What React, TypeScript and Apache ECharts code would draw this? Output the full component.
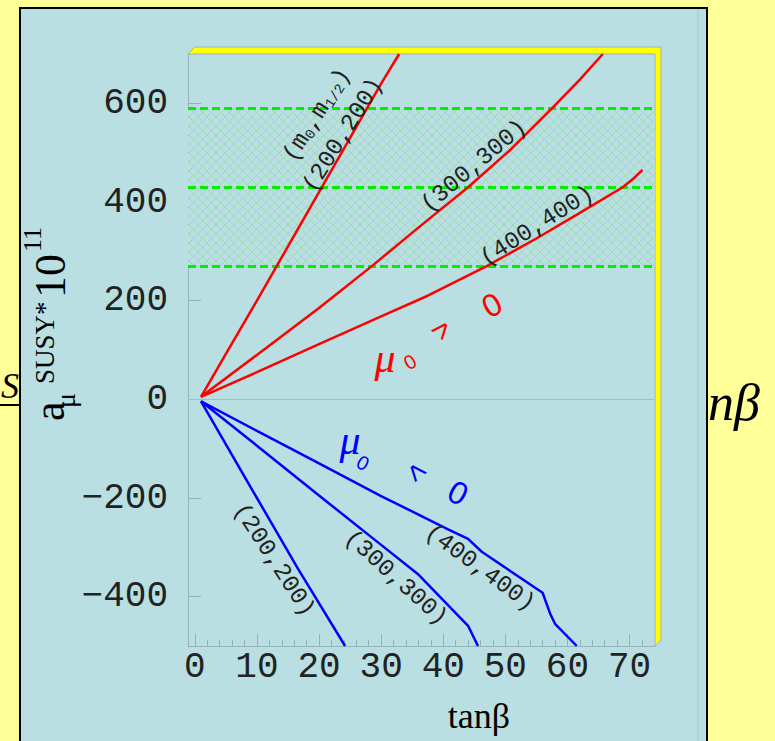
import React, { useEffect, useRef } from "react";
import * as echarts from "echarts";

// tanβ (x) and a_μ^SUSY × 10^11 (y)
const posTan200 = [1, 5, 10, 15, 20, 25, 30, 32.9];
const posAmu200 = [5, 92, 200, 310, 420, 530, 640, 700];
const posTan300 = [1, 10, 20, 28.5, 36, 44, 51, 57.5, 62, 65.7];
const posAmu300 = [5, 90, 185, 270, 348, 430, 508, 590, 648, 700];
const posTan400 = [1, 10, 20, 30, 37.5, 47, 55, 62, 68.9, 70.5, 72.1];
const posAmu400 = [5, 55, 112, 168, 210, 270, 326, 378, 430, 446, 465];
const negTan200 = [1, 10, 16.6, 24.2];
const negAmu200 = [-4, -200, -343, -500];
const negTan300 = [1, 10, 20, 30, 35.9, 44, 45.6];
const negAmu300 = [-4, -94, -195, -295, -354, -459, -500];
const negTan400 = [1, 10, 20, 30, 40.7, 44, 46.2, 56, 57.2, 58, 61.5];
const negAmu400 = [-4, -64, -130, -196, -263, -283, -309, -392, -434, -455, -500];

const bandValues = [270, 430, 590];
const xLabelValues = [0, 10, 20, 30, 40, 50, 60, 70];
const xMinorValues = [0, 2, 4, 6, 8, 10, 12, 14, 16, 18, 20, 22, 24, 26, 28, 30, 32, 34, 36, 38, 40, 42, 44, 46, 48, 50, 52, 54, 56, 58, 60, 62, 64, 66, 68, 70, 72];
const yLabelValues = [-400, -200, 0, 200, 400, 600];

const GL = 188, GT = 54, GW = 467, GH = 592;
const AX = "#93B3B8";
const MONO = "Liberation Mono";
const SERIF = "Liberation Serif";
const SANS = "Liberation Sans";

function makeHatch() {
  const c = document.createElement("canvas");
  c.width = 9;
  c.height = 9;
  const ctx = c.getContext("2d");
  if (ctx) {
    ctx.fillStyle = "#B9DFE2";
    ctx.fillRect(0, 0, 9, 9);
    ctx.strokeStyle = "#A0D7B8";
    ctx.lineWidth = 1;
    ctx.beginPath();
    ctx.moveTo(0, 0);
    ctx.lineTo(9, 9);
    ctx.moveTo(9, 0);
    ctx.lineTo(0, 9);
    ctx.stroke();
  }
  return c;
}

const lineSeries = (xs: number[], ys: number[], color: string) => ({
  type: "line",
  data: xs.map((x, i) => [x, ys[i]]),
  symbol: "none",
  showSymbol: false,
  smooth: false,
  silent: true,
  clip: true,
  z: 5,
  lineStyle: { color, width: 2.5 },
  itemStyle: { color },
});

const txt = (
  text: string,
  x: number,
  y: number,
  rotation: number,
  fontSize: number,
  fontFamily: string,
  fill: string,
  extra: any = {},
  z = 6
) => ({
  type: "text",
  x,
  y,
  rotation,
  z,
  silent: true,
  style: {
    text,
    fontSize,
    fontFamily,
    fill,
    align: "center",
    verticalAlign: "middle",
    textAlign: "center",
    textVerticalAlign: "middle",
    ...extra,
  },
});

export default function App() {
  const ref = useRef<HTMLDivElement>(null);
  useEffect(() => {
    if (!ref.current) return;
    const chart = echarts.init(ref.current, undefined, { renderer: "svg" });
    const hatch = makeHatch();
    const R = Math.PI / 180;
    const option: any = {
      animation: false,
      backgroundColor: "#FFFF99",
      grid: { left: GL, top: GT, width: GW, height: GH, containLabel: false, outerBoundsMode: "none" },
      xAxis: [
        {
          type: "value",
          min: -1.1,
          max: 74.1,
          position: "bottom",
          axisLine: { show: true, onZero: false, lineStyle: { color: AX, width: 1 } },
          axisTick: { show: true, inside: true, length: 12, customValues: xLabelValues, lineStyle: { color: AX } },
          axisLabel: { show: true, customValues: xLabelValues, fontFamily: MONO, fontSize: 36, color: "#222", margin: 3 },
          splitLine: { show: false },
        },
        {
          type: "value",
          min: -1.1,
          max: 74.1,
          position: "bottom",
          axisLine: { show: false, onZero: false },
          axisTick: { show: true, inside: true, length: 6, customValues: xMinorValues, lineStyle: { color: AX } },
          axisLabel: { show: false },
          splitLine: { show: false },
        },
      ],
      yAxis: {
        type: "value",
        min: -500,
        max: 700,
        position: "left",
        axisLine: { show: true, onZero: false, lineStyle: { color: AX, width: 1 } },
        axisTick: { show: true, inside: true, length: 13, customValues: yLabelValues, lineStyle: { color: AX } },
        axisLabel: {
          customValues: yLabelValues,
          fontFamily: MONO,
          fontSize: 36,
          color: "#222",
          margin: 20,
          formatter: (v: number) => String(v).replace("-", "\u2212"),
        },
        splitLine: { show: false },
      },
      series: [
        {
          type: "line",
          data: [],
          silent: true,
          z: 3,
          markArea: {
            silent: true,
            itemStyle: { color: { image: hatch, repeat: "repeat", imageWidth: 9, imageHeight: 9 }, opacity: 1 },
            data: [[{ yAxis: bandValues[0] }, { yAxis: bandValues[2] }]],
          },
          markLine: {
            silent: true,
            symbol: ["none", "none"],
            label: { show: false },
            lineStyle: { color: "#00EE00", width: 3, type: [8, 4] },
            data: [
              { yAxis: 0, lineStyle: { color: "#9CC0C5", width: 1, type: "solid" } },
              ...bandValues.map((v) => ({ yAxis: v })),
            ],
          },
        },
        lineSeries(posTan200, posAmu200, "#FF0000"),
        lineSeries(posTan300, posAmu300, "#FF0000"),
        lineSeries(posTan400, posAmu400, "#FF0000"),
        lineSeries(negTan200, negAmu200, "#0000FF"),
        lineSeries(negTan300, negAmu300, "#0000FF"),
        lineSeries(negTan400, negAmu400, "#0000FF"),
      ],
      graphic: {
        elements: [
          // fragments of the slide behind the panel
          txt("S", 19, 386, 0, 36, SERIF, "#000", { fontStyle: "italic", align: "right", textAlign: "right" }, -10),
          { type: "line", z: -10, silent: true, shape: { x1: 0, y1: 405, x2: 20, y2: 405 }, style: { stroke: "#000", lineWidth: 2 } },
          txt("anβ", 760, 402, 0, 52, SERIF, "#000", { fontStyle: "italic", align: "right", textAlign: "right" }, -10),
          // panel
          { type: "rect", z: -5, silent: true, shape: { x: 20, y: 8, width: 687, height: 745 }, style: { fill: "#B9DFE2", stroke: "#000", lineWidth: 2 } },
          { type: "line", z: -4, silent: true, shape: { x1: 698, y1: 9, x2: 698, y2: 741 }, style: { stroke: "#A2C7CC", lineWidth: 1 } },
          // 3D frame
          {
            type: "polygon",
            z: 1,
            silent: true,
            shape: { points: [[GL, GT], [GL + 7, GT - 7], [GL + GW + 6, GT - 7], [GL + GW + 6, GT + GH - 6], [GL + GW, GT + GH], [GL + GW, GT]] },
            style: { fill: "#FFFF00", stroke: "#9AB2B4", lineWidth: 1 },
          },
          // axis titles
          txt("tanβ", 479, 716, 0, 36, SERIF, "#000"),
          txt("a", 49, 421, Math.PI / 2, 44, SERIF, "#000", { align: "left", textAlign: "left" }),
          txt("μ", 65, 408, Math.PI / 2, 28, SERIF, "#000", { align: "left", textAlign: "left" }),
          txt("SUSY*", 45, 384, Math.PI / 2, 27, SERIF, "#000", { align: "left", textAlign: "left" }),
          txt("10", 50, 298, Math.PI / 2, 44, SERIF, "#000", { align: "left", textAlign: "left" }),
          txt("11", 32, 252, Math.PI / 2, 26, SERIF, "#000", { align: "left", textAlign: "left" }),
          // curve labels
          txt("(m{s|0},m{s|1/2})", 317, 115, 57.5 * R, 24, MONO, "#222", {
            rich: { s: { fontSize: 14, fontFamily: MONO, fill: "#222", color: "#222", verticalAlign: "bottom" } },
          }),
          txt("(200,200)", 343, 135, 58 * R, 24, MONO, "#222"),
          txt("(300,300)", 474, 166, 40 * R, 24, MONO, "#222"),
          txt("(400,400)", 537, 226, 32.5 * R, 24, MONO, "#222"),
          txt("(200,200)", 274, 560, -57 * R, 24, MONO, "#222"),
          txt("(300,300)", 396, 578, -42 * R, 24, MONO, "#222"),
          txt("(400,400)", 480, 568, -36 * R, 24, MONO, "#222"),
          // μ0 > 0
          txt("μ", 385, 358, 0, 42, SERIF, "#FF0000", { fontStyle: "italic" }),
          txt("0", 410, 362, 30 * R, 20, SANS, "#FF0000"),
          txt(">", 443, 331, 50 * R, 30, MONO, "#FF0000"),
          txt("0", 492, 305, 28 * R, 32, SANS, "#FF0000"),
          // μ0 < 0
          txt("μ", 350, 440, 0, 42, SERIF, "#0000FF", { fontStyle: "italic" }),
          txt("0", 363, 463, -28 * R, 20, SANS, "#0000FF"),
          txt("<", 415, 473, -50 * R, 30, MONO, "#0000FF"),
          txt("0", 458, 493, -28 * R, 32, SANS, "#0000FF"),
        ],
      },
    };
    chart.setOption(option);
    return () => chart.dispose();
  }, []);
  return (
    <div
      ref={ref}
      style={{ position: "fixed", left: 0, top: 0, width: 775, height: 741 }}
    />
  );
}
